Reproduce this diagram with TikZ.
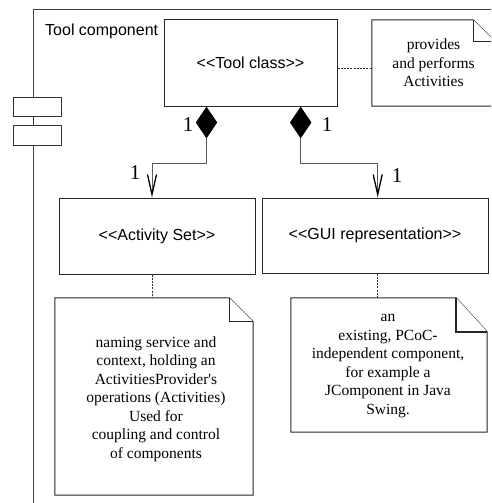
\documentclass[tikz,border=0pt]{standalone}
\usepackage{fontspec}
\usetikzlibrary{arrows.meta,calc,shapes.geometric}
\newfontfamily\sansui{Liberation Sans}
\newfontfamily\serifui{Liberation Serif}
\newcommand\stereo[1]{<\kern0pt<#1>\kern0pt>}
\tikzset{
  x=1pt, y=-1pt,
  frameline/.style={draw=black!75, line width=1pt},
  classbox/.style={draw=black!85, fill=white, line width=1pt, inner sep=0pt,
                   font=\sansui\fontsize{16}{18}\selectfont},
  notetext/.style={inner sep=0pt, align=center,
                   font=\serifui\fontsize{15.5}{18.5}\selectfont},
  notefrm/.style={draw=black!85, fill=white, line width=1pt},
  link/.style={draw=black!65, line width=1pt},
  anchorline/.style={draw=black!80, line width=0.8pt, dash pattern=on 2pt off 1.2pt},
  comp/.style={shape=diamond, fill=black, draw=black, inner sep=0pt,
               minimum width=21pt, minimum height=31pt},
  mult/.style={font=\serifui\fontsize{21}{21}\selectfont, inner sep=0pt},
  nav/.style={-{Straight Barb[length=20pt,width=9pt,line width=1.3pt,color=black]}},
}
\begin{document}
\begin{tikzpicture}
\useasboundingbox (0,0) rectangle (491,503);
\clip (0,0) rectangle (491,503);
\fill[white] (0,0) rectangle (491,503);

% component frame with its two interface tabs
\draw[frameline] (33,515) -- (33,10) -- (500,10);
\node[draw=black!80, fill=white, line width=1pt, minimum width=48pt, minimum height=19pt, inner sep=0pt] (tab1) at (37,106.5) {};
\node[draw=black!80, fill=white, line width=1pt, minimum width=48pt, minimum height=20pt, inner sep=0pt] (tab2) at (37,135) {};
\node[anchor=base west, inner sep=0pt, font=\sansui\fontsize{16}{18}\selectfont] (title) at (45,36) {Tool component};

% classes
\node[classbox, minimum width=173pt, minimum height=86pt] (tool) at (250.5,63) {\stereo{Tool class}};
\node[classbox, minimum width=196pt, minimum height=76pt] (act) at (157,236) {\stereo{Activity Set}};
\node[classbox, minimum width=226pt, minimum height=75pt] (gui) at (375,235.5) {\stereo{GUI representation}};

% notes: outline with folded corner, text on top
\node[notetext, minimum width=123pt, minimum height=86pt] (n1) at (433.5,63) {};
\draw[notefrm] (n1.north west) -- ($(n1.north east)+(-22,0)$) -- ($(n1.north east)+(0,22)$)
   -- (n1.south east) -- (n1.south west) -- cycle;
\draw[notefrm] ($(n1.north east)+(-22,0)$) |- ($(n1.north east)+(0,22)$);
\node[notetext] (n1t) at (433.5,63) {provides\\and performs\\Activities};

\node[notetext, minimum width=198pt, minimum height=197pt] (n2) at (154,396.5) {};
\draw[notefrm] (n2.north west) -- ($(n2.north east)+(-24,0)$) -- ($(n2.north east)+(0,24)$)
   -- (n2.south east) -- (n2.south west) -- cycle;
\draw[notefrm] ($(n2.north east)+(-24,0)$) |- ($(n2.north east)+(0,24)$);
\node[notetext] (n2t) at (156,399) {naming service and\\context, holding an\\ActivitiesProvider's\\operations (Activities)\\Used for\\coupling and control\\of components};

\node[notetext, minimum width=196pt, minimum height=134pt] (n3) at (389,365) {};
\draw[notefrm] (n3.north west) -- ($(n3.north east)+(-31,0)$) -- ($(n3.north east)+(0,34)$)
   -- (n3.south east) -- (n3.south west) -- cycle;
\draw[notefrm, line width=1.8pt] ($(n3.north east)+(-31,0)$) |- ($(n3.north east)+(0,34)$);
\node[notetext] (n3t) at (388,366) {an\\existing, PCoC-\\independent component,\\for example a\\JComponent in Java\\Swing.};

% note anchors
\draw[anchorline] (tool.east |- 0,68) -- (n1.west |- 0,68);
\draw[anchorline] (act.south -| 152,0) -- (n2.north -| 152,0);
\draw[anchorline] (gui.south -| 377.7,0) -- (n3.north -| 377.7,0);

% compositions
\node[comp] (d1) at (206.5,122.5) {};
\node[comp] (d2) at (300.7,122.5) {};
\coordinate (k1) at (152,163);
\coordinate (k2) at (377.7,163);
\draw[link, nav] (d1.south) |- (k1) -- (k1 |- act.north);
\draw[link, nav] (d2.south) |- (k2) -- (k2 |- gui.north);

% multiplicities
\node[mult] (m1) at (188,125) {1};
\node[mult] (m2) at (327,125) {1};
\node[mult] (m3) at (135,173) {1};
\node[mult] (m4) at (397,176) {1};
\end{tikzpicture}
\end{document}
